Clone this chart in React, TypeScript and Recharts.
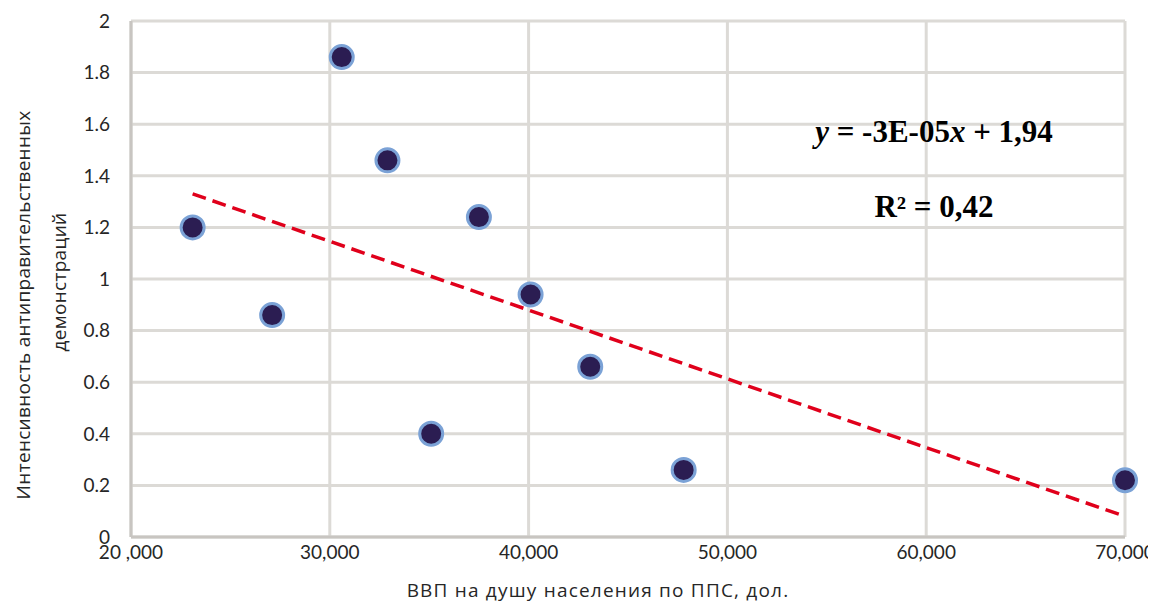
import { ScatterChart, Scatter, XAxis, YAxis, CartesianGrid } from "recharts";

// points
const gdpPerCapita = [23100, 27100, 30600, 32900, 35100, 37500, 40100, 43100, 47800, 70000];
const protestIntensity = [1.2, 0.86, 1.86, 1.46, 0.4, 1.24, 0.94, 0.66, 0.26, 0.22];

// trend line endpoints
const trendX = [23100, 70000];
const trendY = [1.33, 0.08];

const xTicks = [20000, 30000, 40000, 50000, 60000, 70000];
const yTicks = [0, 0.2, 0.4, 0.6, 0.8, 1, 1.2, 1.4, 1.6, 1.8, 2];

const points = gdpPerCapita.map((x, i) => ({ x, y: protestIntensity[i] }));
const trend = trendX.map((x, i) => ({ x, y: trendY[i] }));

const tickFont = { fontFamily: "Lato, 'Open Sans', sans-serif", fontSize: 19, fill: "#262626" };
const titleFont = { fontFamily: "'Open Sans', sans-serif", fontSize: 19, fill: "#262626" };
const eqFont = { fontFamily: "'Liberation Serif', serif", fontSize: 31, fontWeight: 700, fill: "#000" };

const Dot = (props: any) => (
  <circle cx={props.cx} cy={props.cy} r={11.5} fill="#2b1d52" stroke="#7ba2d6" strokeWidth={3} />
);

const fmtX = (v: number) => (v === 20000 ? "20 ,000" : v.toLocaleString("en-US"));

export default function App() {
  return (
    <div style={{ position: "relative", width: 1148, height: 594 }}>
      <ScatterChart
        width={1148}
        height={594}
        margin={{ top: 13, right: 31, bottom: 25, left: 0 }}
        style={{ overflow: "visible" }}
      >
        <CartesianGrid stroke="#dcdad6" strokeWidth={3} />
        <XAxis
          type="number"
          dataKey="x"
          domain={[20000, 70000]}
          ticks={xTicks}
          tickFormatter={fmtX}
          tickLine={false}
          tickSize={0}
          tickMargin={9}
          height={40}
          axisLine={{ stroke: "#c8c5c1", strokeWidth: 3 }}
          tick={tickFont}
        />
        <YAxis
          type="number"
          dataKey="y"
          domain={[0, 2]}
          ticks={yTicks}
          tickLine={false}
          tickSize={0}
          tickMargin={21}
          width={123}
          axisLine={{ stroke: "#c8c5c1", strokeWidth: 3 }}
          tick={tickFont}
        />
        <Scatter
          data={trend}
          line={{ stroke: "#e0001b", strokeWidth: 3.5, strokeDasharray: "14 7" }}
          shape={() => <g />}
          isAnimationActive={false}
        />
        <Scatter data={points} shape={Dot} isAnimationActive={false} />
      </ScatterChart>
      <svg
        width={1148}
        height={594}
        style={{ position: "absolute", left: 0, top: 0, pointerEvents: "none" }}
      >
        <text
          x={15}
          y={297}
          transform="rotate(-90 15 297)"
          textAnchor="middle"
          dominantBaseline="central"
          style={{ ...titleFont, letterSpacing: 0.3 }}
        >
          Интенсивность антиправительственных
        </text>
        <text
          x={51}
          y={274}
          transform="rotate(-90 51 274)"
          textAnchor="middle"
          dominantBaseline="central"
          style={{ ...titleFont, letterSpacing: 0.3 }}
        >
          демонстраций
        </text>
        <text
          x={590}
          y={582}
          textAnchor="middle"
          dominantBaseline="central"
          style={{ ...titleFont, letterSpacing: 1.2 }}
        >
          ВВП на душу населения по ППС, дол.
        </text>
        <text x={926} y={123} textAnchor="middle" dominantBaseline="central" style={eqFont}>
          <tspan fontStyle="italic">y</tspan> = -3E-05<tspan fontStyle="italic">x</tspan> + 1,94
        </text>
        <text x={926} y={198} textAnchor="middle" dominantBaseline="central" style={eqFont}>
          R² = 0,42
        </text>
      </svg>
    </div>
  );
}
